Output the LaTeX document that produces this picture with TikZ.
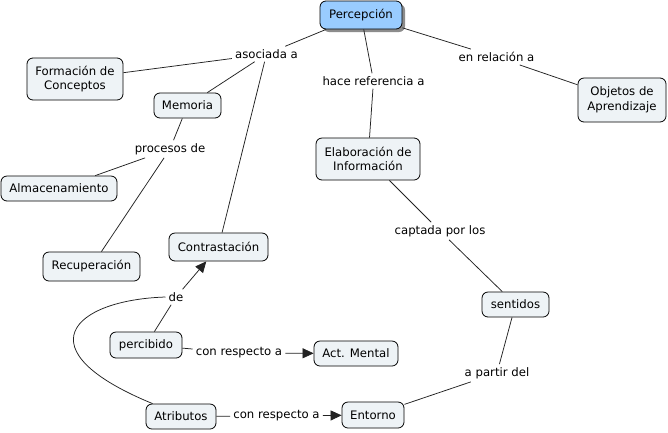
\documentclass[tikz,border=0pt]{standalone}
\usepackage{fontspec}
\setmainfont{DejaVu Sans}
\usetikzlibrary{arrows.meta,shadows}
\definecolor{cfill}{HTML}{EEF3F6}
\definecolor{bfill}{HTML}{99CCFF}
\definecolor{lcol}{HTML}{222222}
\tikzset{
  concept/.style={draw=black, line width=0.8pt, rounded corners=6pt, fill=cfill,
    inner sep=1pt, align=center, font=\fontsize{11.7}{14.6}\selectfont},
  mainc/.style={concept, fill=bfill, general shadow={fill=black!45, shadow xshift=3pt, shadow yshift=-3pt}},
  lbl/.style={inner sep=3pt, font=\fontsize{11.7}{14.6}\selectfont},
  conn/.style={draw=lcol, line width=0.75pt},
  arr/.style={conn, -{Triangle[length=11pt,width=10pt]}},
}
\begin{document}
\begin{tikzpicture}[x=1pt,y=-1pt]
\useasboundingbox[fill=white] (0,0) rectangle (668,432);
% concepts
\node[mainc, minimum width=82pt, minimum height=28pt] (per) at (361,15) {Percepción};
\node[concept, minimum width=96pt, minimum height=42pt] (for) at (75,79) {Formación de\\Conceptos};
\node[concept, minimum width=67pt, minimum height=25pt] (mem) at (187.5,105.5) {Memoria};
\node[concept, minimum width=116pt, minimum height=25pt] (alm) at (59,188.5) {Almacenamiento};
\node[concept, minimum width=97pt, minimum height=29pt] (rec) at (91.5,266.5) {Recuperación};
\node[concept, minimum width=99pt, minimum height=28pt] (con) at (218.5,247) {Contrastación};
\node[concept, minimum width=72pt, minimum height=26pt] (pcb) at (146,345) {percibido};
\node[concept, minimum width=70pt, minimum height=25pt] (atr) at (181,416.5) {Atributos};
\node[concept, minimum width=84pt, minimum height=25pt] (act) at (356,353.5) {Act. Mental};
\node[concept, minimum width=62pt, minimum height=26pt] (ent) at (373,415) {Entorno};
\node[concept, minimum width=67pt, minimum height=25pt] (sen) at (515.5,304.5) {sentidos};
\node[concept, minimum width=104pt, minimum height=42pt] (ela) at (368,159) {Elaboración de\\Información};
\node[concept, minimum width=88pt, minimum height=44pt] (obj) at (622,100) {Objetos de\\Aprendizaje};
% linking phrases
\node[lbl] (l1) at (266.5,54) {asociada a};
\node[lbl] (l2) at (373.5,81) {hace referencia a};
\node[lbl] (l3) at (496.5,57) {en relación a};
\node[lbl] (l4) at (170,149) {procesos de};
\node[lbl] (l5) at (440,231) {captada por los};
\node[lbl] (l6) at (176,297) {de};
\node[lbl] (l7) at (239,353) {con respecto a};
\node[lbl] (l8) at (276.5,416) {con respecto a};
\node[lbl] (l9) at (497,373) {a partir del};
% connectors
\draw[conn] (per) -- (l1);
\draw[conn] (l1) -- (for);
\draw[conn] (l1) -- (mem);
\draw[conn] (l1) -- (con);
\draw[conn] (per) -- (l2);
\draw[conn] (l2) -- (ela);
\draw[conn] (per) -- (l3);
\draw[conn] (l3) -- (obj);
\draw[conn] (mem) -- (l4);
\draw[conn] (l4) -- (alm);
\draw[conn] (l4) -- (rec);
\draw[conn] (ela) -- (l5);
\draw[conn] (l5) -- (sen);
\draw[conn] (sen) -- (l9);
\draw[conn] (l9) -- (ent);
\draw[conn] (pcb) -- (l6);
\draw[arr] (l6) -- (con);
\draw[conn] ([xshift=7pt]atr.north west) .. controls (22,350) and (72,300) .. (l6.west);
\draw[conn] (pcb) -- (l7);
\draw[arr] (l7) -- (act);
\draw[conn] (atr) -- (l8);
\draw[arr] (l8) -- (ent);
\end{tikzpicture}
\end{document}
